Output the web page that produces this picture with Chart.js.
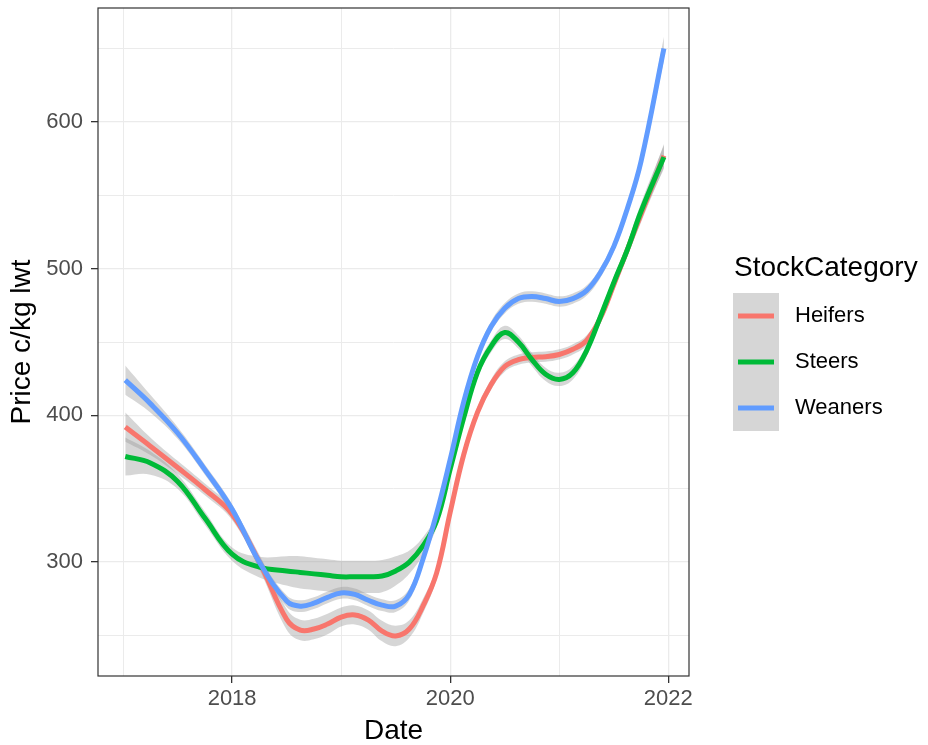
<!DOCTYPE html>
<html>
<head>
<meta charset="utf-8">
<title>Price c/kg lwt by StockCategory</title>
<script src="https://cdn.jsdelivr.net/npm/chart.js@4.4.1/dist/chart.umd.min.js"></script>
<style>
  html, body { margin: 0; padding: 0; background: #ffffff; }
  #wrap { width: 928px; height: 745px; }
</style>
</head>
<body>
<div id="wrap"><canvas id="priceChart" width="928" height="745"></canvas></div>
<script>
// Data (Date in decimal years, price c/kg lwt)
const years = [2017.02, 2017.25, 2017.5, 2017.75, 2018.0, 2018.25, 2018.5, 2018.625, 2018.75, 2018.875,
  2019.0, 2019.125, 2019.25, 2019.375, 2019.5, 2019.625, 2019.75, 2019.875, 2020.0, 2020.125,
  2020.25, 2020.375, 2020.5, 2020.625, 2020.75, 2020.875, 2021.0, 2021.125, 2021.25, 2021.375,
  2021.5, 2021.625, 2021.75, 2021.96];

const categories = ['Heifers', 'Steers', 'Weaners'];

const heifers = [392, 379, 364.5, 349.5, 332.7, 300, 261, 253.7, 254.4, 257.8,
  262.6, 264, 260.5, 253, 249.7, 254.4, 270, 292.5, 334, 373.5,
  402, 421, 433.3, 438, 439.5, 440, 441.5, 445, 451, 466,
  489, 513, 537, 577];

const steers = [372, 367.6, 355, 330, 305.4, 296.6, 294, 293, 292, 291,
  290, 290, 290, 290.5, 294, 300, 311, 328, 363.3, 398.6,
  429.3, 447, 456.5, 450, 438, 428, 424.5, 429, 444, 466.7,
  490.5, 513, 539, 576];

const weaners = [424, 408, 388, 363, 336, 300, 273.5, 270, 272, 276,
  279, 278, 274, 270.7, 270, 278, 302, 333, 370, 409.5,
  440, 460.5, 473, 479.6, 481, 479.6, 477.6, 479.6, 485, 497,
  515, 541, 573, 650];

// half widths of the grey confidence bands
const heifersBand = [10, 6, 4.5, 4, 4, 5, 7, 7, 7, 7, 6.5, 6.5, 6.5, 7, 7, 6, 5, 4, 3.5, 3.5,
  3.5, 3.5, 3.5, 3.5, 3.5, 3.5, 3.5, 3.5, 3.5, 3.5, 4, 4.5, 5.5, 8];
const steersBand = [13, 8, 5, 4.5, 4.5, 7, 10, 11, 11, 11, 11, 11, 11, 11, 10, 8, 6, 4.5, 4, 4,
  4, 4, 4.5, 4.5, 4.5, 4.5, 4.5, 4.5, 4, 4, 4, 4.5, 5.5, 8];
const weanersBand = [10, 6, 4, 3.5, 3.5, 3.5, 4, 4, 4, 4, 4, 4, 4, 4, 4, 4, 4, 3.5, 3.5, 3.5,
  3.5, 3.5, 3.5, 3.5, 3.5, 3.5, 3.5, 3.5, 3.5, 3.5, 3.5, 4, 5, 8];

// axes
const xGridYears = [2017, 2018, 2019, 2020, 2021, 2022];
const xTickLabels = [2018, 2020, 2022];
const yGridValues = [250, 300, 350, 400, 450, 500, 550, 600, 650];
const yTickLabels = [300, 400, 500, 600];

const colors = { Heifers: '#F8766D', Steers: '#00BA38', Weaners: '#619CFF' };
const seriesValues = { Heifers: heifers, Steers: steers, Weaners: weaners };
const seriesBands = { Heifers: heifersBand, Steers: steersBand, Weaners: weanersBand };

const FONT = "'Liberation Sans', Arial, sans-serif";
const BAND_FILL = 'rgba(153,153,153,0.4)';
const TENSION = 0.4;

function points(values, band, sign) {
    return years.map(function(x, i) {
        return { x: x, y: values[i] + sign * band[i] };
    });
}

// Lines first so they are drawn on top; Weaners on top of the others
const datasets = [];
['Weaners', 'Steers', 'Heifers'].forEach(function(name) {
    datasets.push({
        label: name,
        data: points(seriesValues[name], seriesBands[name], 0),
        borderColor: colors[name],
        borderWidth: 5,
        pointRadius: 0,
        tension: TENSION,
        fill: false
    });
});
categories.forEach(function(name) {
    datasets.push({
        label: name + ' lower',
        data: points(seriesValues[name], seriesBands[name], -1),
        borderWidth: 0,
        borderColor: 'rgba(0,0,0,0)',
        pointRadius: 0,
        tension: TENSION,
        fill: false
    });
    datasets.push({
        label: name + ' upper',
        data: points(seriesValues[name], seriesBands[name], 1),
        borderWidth: 0,
        borderColor: 'rgba(0,0,0,0)',
        backgroundColor: BAND_FILL,
        pointRadius: 0,
        tension: TENSION,
        fill: '-1'
    });
});

/**
 * Panel border and the ggplot style legend on the right
 */
const panelAndLegend = {
    id: 'panelAndLegend',
    afterDraw: function(chart) {
        const ctx = chart.ctx;
        const area = chart.chartArea;
        ctx.save();
        ctx.strokeStyle = '#333333';
        ctx.lineWidth = 1.2;
        ctx.strokeRect(area.left, area.top, area.right - area.left, area.bottom - area.top);

        // legend
        const lx = 733;
        ctx.fillStyle = '#000000';
        ctx.font = '28px ' + FONT;
        ctx.textAlign = 'left';
        ctx.textBaseline = 'middle';
        ctx.fillText('StockCategory', lx + 1, 268);

        const keyTop = 293, keyH = 46, keyW = 46;
        ctx.fillStyle = '#D6D6D6';
        ctx.fillRect(lx, keyTop, keyW, keyH * categories.length);

        ctx.font = '22px ' + FONT;
        categories.forEach(function(name, i) {
            const cy = keyTop + keyH * i + keyH / 2;
            ctx.strokeStyle = colors[name];
            ctx.lineWidth = 5;
            ctx.beginPath();
            ctx.moveTo(lx + 5, cy);
            ctx.lineTo(lx + keyW - 5, cy);
            ctx.stroke();
            ctx.fillStyle = '#000000';
            ctx.fillText(name, 795, cy);
        });
        ctx.restore();
    }
};

document.addEventListener('DOMContentLoaded', function() {
    const el = document.getElementById('priceChart');
    new Chart(el, {
        type: 'line',
        data: { datasets: datasets },
        options: {
            responsive: false,
            animation: false,
            devicePixelRatio: 1,
            layout: { padding: { top: 8, right: 239, left: 0, bottom: 0 } },
            plugins: {
                legend: { display: false },
                tooltip: { enabled: false }
            },
            scales: {
                x: {
                    type: 'linear',
                    min: 2016.77,
                    max: 2022.19,
                    afterBuildTicks: function(scale) {
                        scale.ticks = xGridYears.map(function(v) { return { value: v }; });
                    },
                    afterFit: function(scale) {
                        scale.height = 69;
                        scale.paddingLeft = 0;
                        scale.paddingRight = 0;
                    },
                    border: { display: false },
                    grid: {
                        color: '#EBEBEB',
                        lineWidth: function(c) { return xTickLabels.includes(c.tick && c.tick.value) ? 1.3 : 1; },
                        tickColor: function(c) { return xTickLabels.includes(c.tick && c.tick.value) ? '#333333' : 'rgba(0,0,0,0)'; },
                        tickLength: 7,
                        tickWidth: 1.3
                    },
                    ticks: {
                        autoSkip: false,
                        maxRotation: 0,
                        padding: 3,
                        color: '#4D4D4D',
                        font: { family: FONT, size: 22 },
                        callback: function(value) { return xTickLabels.includes(value) ? String(value) : ''; }
                    },
                    title: {
                        display: true,
                        text: 'Date',
                        color: '#000000',
                        font: { family: FONT, size: 28, lineHeight: 1.0 },
                        padding: { top: 0, bottom: 0 }
                    }
                },
                y: {
                    type: 'linear',
                    min: 222.4,
                    max: 677.6,
                    afterBuildTicks: function(scale) {
                        scale.ticks = yGridValues.map(function(v) { return { value: v }; });
                    },
                    afterFit: function(scale) {
                        scale.width = 98;
                        scale.paddingTop = 0;
                        scale.paddingBottom = 0;
                    },
                    border: { display: false },
                    grid: {
                        color: '#EBEBEB',
                        lineWidth: function(c) { return yTickLabels.includes(c.tick && c.tick.value) ? 1.3 : 1; },
                        tickColor: function(c) { return yTickLabels.includes(c.tick && c.tick.value) ? '#333333' : 'rgba(0,0,0,0)'; },
                        tickLength: 7,
                        tickWidth: 1.3
                    },
                    ticks: {
                        autoSkip: false,
                        padding: 8,
                        color: '#4D4D4D',
                        font: { family: FONT, size: 22 },
                        callback: function(value) { return yTickLabels.includes(value) ? String(value) : ''; }
                    },
                    title: {
                        display: true,
                        text: 'Price c/kg lwt',
                        color: '#000000',
                        font: { family: FONT, size: 28, lineHeight: 1.0 },
                        padding: { top: 8, bottom: 0 }
                    }
                }
            }
        },
        plugins: [panelAndLegend]
    });
});
</script>
</body>
</html>
